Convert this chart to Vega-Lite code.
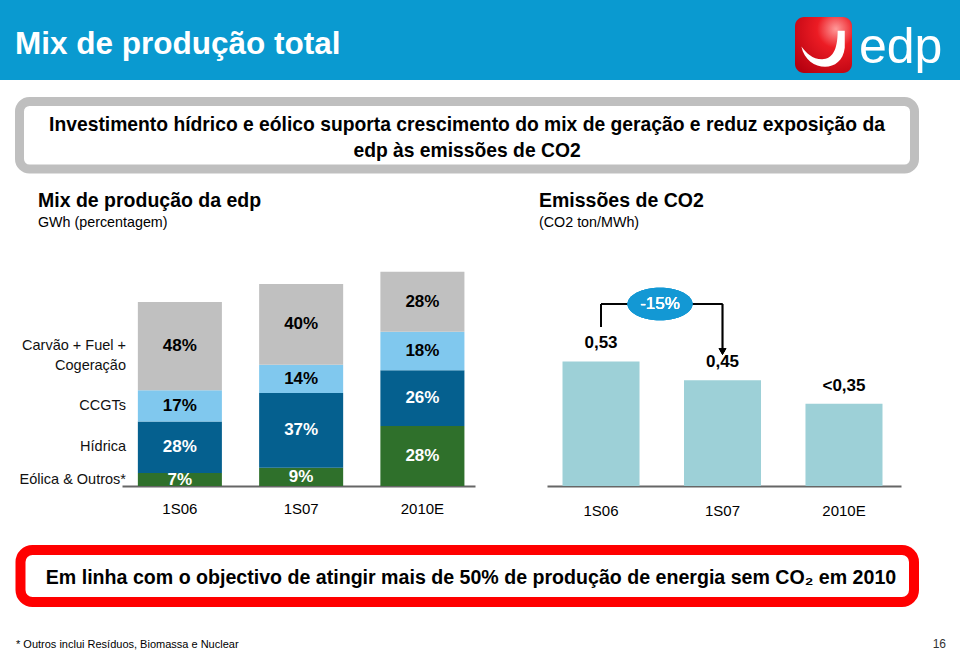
{
  "$schema": "https://vega.github.io/schema/vega-lite/v6.json",
  "width": 960,
  "height": 652,
  "padding": 0,
  "autosize": {"type": "none"},
  "background": "#ffffff",
  "config": {"view": {"stroke": null}, "text": {"font": "Liberation Sans"}, "axis": {"labelFont": "Liberation Sans"}},
  "datasets": {
    "mix": [
      {"periodo": "1S06", "fonte": "Eólica & Outros*", "ordem": 1, "valor": 1288, "pct": "7%"},
      {"periodo": "1S06", "fonte": "Hídrica", "ordem": 2, "valor": 5152, "pct": "28%"},
      {"periodo": "1S06", "fonte": "CCGTs", "ordem": 3, "valor": 3128, "pct": "17%"},
      {"periodo": "1S06", "fonte": "Carvão + Fuel +\nCogeração", "ordem": 4, "valor": 8832, "pct": "48%"},
      {"periodo": "1S07", "fonte": "Eólica & Outros*", "ordem": 1, "valor": 1818, "pct": "9%"},
      {"periodo": "1S07", "fonte": "Hídrica", "ordem": 2, "valor": 7474, "pct": "37%"},
      {"periodo": "1S07", "fonte": "CCGTs", "ordem": 3, "valor": 2828, "pct": "14%"},
      {"periodo": "1S07", "fonte": "Carvão + Fuel +\nCogeração", "ordem": 4, "valor": 8080, "pct": "40%"},
      {"periodo": "2010E", "fonte": "Eólica & Outros*", "ordem": 1, "valor": 6001, "pct": "28%"},
      {"periodo": "2010E", "fonte": "Hídrica", "ordem": 2, "valor": 5572, "pct": "26%"},
      {"periodo": "2010E", "fonte": "CCGTs", "ordem": 3, "valor": 3857, "pct": "18%"},
      {"periodo": "2010E", "fonte": "Carvão + Fuel +\nCogeração", "ordem": 4, "valor": 6000, "pct": "28%"}
    ],
    "co2": [
      {"periodo": "1S06", "valor": 0.53, "rotulo": "0,53"},
      {"periodo": "1S07", "valor": 0.45, "rotulo": "0,45"},
      {"periodo": "2010E", "valor": 0.35, "rotulo": "<0,35"}
    ]
  },
  "resolve": {"scale": {"x": "independent", "y": "independent", "color": "independent"}},
  "layer": [
    {
      "data": {"values": [{"elemento": "cabeçalho"}]},
      "mark": {"type": "rect", "color": "#0a9ad0"},
      "encoding": {"x": {"value": 0}, "x2": {"value": 960}, "y": {"value": 0}, "y2": {"value": 80}}
    },
    {
      "data": {"values": [{"t": "Mix de produção total"}]},
      "mark": {"type": "text", "align": "left", "baseline": "alphabetic", "fontSize": 31.5, "fontWeight": "bold", "color": "#ffffff"},
      "encoding": {"text": {"field": "t"}, "x": {"value": 15}, "y": {"value": 54}}
    },
    {
      "data": {"values": [{"elemento": "logo"}]},
      "mark": {"type": "rect", "cornerRadius": 9,
        "fill": {"gradient": "radial", "x1": 0.72, "y1": 0.22, "r1": 0, "x2": 0.72, "y2": 0.22, "r2": 0.95,
          "stops": [{"offset": 0, "color": "#ff9a9a"}, {"offset": 0.35, "color": "#ec1c24"}, {"offset": 1, "color": "#b5000f"}]}},
      "encoding": {"x": {"value": 795}, "x2": {"value": 852}, "y": {"value": 17}, "y2": {"value": 73}}
    },
    {
      "data": {"values": [{"elemento": "sorriso"}]},
      "mark": {"type": "point", "filled": true, "fill": "#ffffff", "opacity": 1, "strokeWidth": 0, "size": 3211,
        "shape": "M -0.78 0.05 C -0.6 0.95 0.65 1.05 0.75 0.1 L 0.75 -0.5 L 0.5 -0.5 C 0.5 0.2 0.3 0.5 -0.05 0.5 C -0.4 0.5 -0.6 0.28 -0.78 0.05 Z"},
      "encoding": {"x": {"value": 823.5}, "y": {"value": 45}}
    },
    {
      "data": {"values": [{"t": "edp"}]},
      "mark": {"type": "text", "align": "left", "baseline": "alphabetic", "fontSize": 50, "color": "#ffffff"},
      "encoding": {"text": {"field": "t"}, "x": {"value": 859}, "y": {"value": 63}}
    },
    {
      "data": {"values": [{"elemento": "caixa"}]},
      "mark": {"type": "rect", "fill": "#ffffff", "stroke": "#bfbfbf", "strokeWidth": 9, "cornerRadius": 10},
      "encoding": {"x": {"value": 19.5}, "x2": {"value": 914.5}, "y": {"value": 101.5}, "y2": {"value": 169}}
    },
    {
      "data": {"values": [{"t": "Investimento hídrico e eólico suporta crescimento do mix de geração e reduz exposição da\nedp às emissões de CO2"}]},
      "mark": {"type": "text", "align": "center", "baseline": "alphabetic", "fontSize": 19.3, "fontWeight": "bold", "color": "#000000", "lineBreak": "\n", "lineHeight": 26},
      "encoding": {"text": {"field": "t"}, "x": {"value": 467}, "y": {"value": 131}}
    },
    {
      "data": {"values": [{"t": "Mix de produção da edp"}]},
      "mark": {"type": "text", "align": "left", "baseline": "alphabetic", "fontSize": 19.5, "fontWeight": "bold", "color": "#000000"},
      "encoding": {"text": {"field": "t"}, "x": {"value": 38}, "y": {"value": 207}}
    },
    {
      "data": {"values": [{"t": "GWh (percentagem)"}]},
      "mark": {"type": "text", "align": "left", "baseline": "alphabetic", "fontSize": 14.3, "color": "#000000"},
      "encoding": {"text": {"field": "t"}, "x": {"value": 38}, "y": {"value": 227}}
    },
    {
      "data": {"values": [{"t": "Emissões de CO2"}]},
      "mark": {"type": "text", "align": "left", "baseline": "alphabetic", "fontSize": 19.5, "fontWeight": "bold", "color": "#000000"},
      "encoding": {"text": {"field": "t"}, "x": {"value": 539}, "y": {"value": 207}}
    },
    {
      "data": {"values": [{"t": "(CO2 ton/MWh)"}]},
      "mark": {"type": "text", "align": "left", "baseline": "alphabetic", "fontSize": 14.3, "color": "#000000"},
      "encoding": {"text": {"field": "t"}, "x": {"value": 539}, "y": {"value": 227}}
    },
    {
      "data": {"values": [{"elemento": "caixa vermelha"}]},
      "mark": {"type": "rect", "fill": "#ffffff", "stroke": "#ff0000", "strokeWidth": 10, "cornerRadius": 12},
      "encoding": {"x": {"value": 20.5}, "x2": {"value": 914}, "y": {"value": 550}, "y2": {"value": 602}}
    },
    {
      "data": {"values": [{"t": "Em linha com o objectivo de atingir mais de 50% de produção de energia sem CO₂ em 2010"}]},
      "mark": {"type": "text", "align": "center", "baseline": "alphabetic", "fontSize": 19.6, "fontWeight": "bold", "color": "#000000"},
      "encoding": {"text": {"field": "t"}, "x": {"value": 471}, "y": {"value": 584}}
    },
    {
      "data": {"values": [{"t": "* Outros inclui Resíduos, Biomassa e Nuclear"}]},
      "mark": {"type": "text", "align": "left", "baseline": "alphabetic", "fontSize": 11, "color": "#000000"},
      "encoding": {"text": {"field": "t"}, "x": {"value": 16}, "y": {"value": 648}}
    },
    {
      "data": {"values": [{"t": "16"}]},
      "mark": {"type": "text", "align": "right", "baseline": "alphabetic", "fontSize": 12, "color": "#333333"},
      "encoding": {"text": {"field": "t"}, "x": {"value": 946}, "y": {"value": 648}}
    },
    {
      "data": {"name": "mix"},
      "transform": [
        {"stack": "valor", "groupby": ["periodo"], "sort": [{"field": "ordem", "order": "ascending"}], "as": ["v0", "v1"]},
        {"calculate": "(datum.v0 + datum.v1) / 2", "as": "meio"}
      ],
      "encoding": {
        "x": {"field": "periodo", "type": "nominal", "sort": ["1S06", "1S07", "2010E"],
          "scale": {"range": [122, 475], "paddingInner": 0.307, "paddingOuter": 0.109, "align": 0.6, "round": false},
          "axis": {"orient": "bottom", "offset": -166, "title": null, "domainColor": "#666666", "domainWidth": 2, "ticks": false, "labelFontSize": 15, "labelColor": "#000000", "labelPadding": 15, "labelAngle": 0}}
      },
      "layer": [
        {
          "mark": {"type": "bar"},
          "encoding": {
            "y": {"field": "v1", "type": "quantitative", "scale": {"domain": [0, 25000], "range": [486, 236], "nice": false, "zero": true}, "axis": null},
            "y2": {"field": "v0"},
            "color": {"field": "fonte", "type": "nominal",
              "scale": {"domain": ["Carvão + Fuel +\nCogeração", "CCGTs", "Hídrica", "Eólica & Outros*"], "range": ["#c0c0c0", "#80c8ee", "#05608f", "#2f702b"]},
              "legend": null}
          }
        },
        {
          "mark": {"type": "text", "fontSize": 17, "fontWeight": "bold", "align": "center", "baseline": "middle"},
          "encoding": {
            "y": {"field": "meio", "type": "quantitative"},
            "text": {"field": "pct"},
            "color": {"condition": {"test": "datum.ordem <= 2", "value": "#ffffff"}, "value": "#000000"}
          }
        },
        {
          "transform": [{"filter": "datum.periodo == '1S06'"}],
          "mark": {"type": "text", "fontSize": 14.5, "align": "right", "baseline": "middle", "lineBreak": "\n", "lineHeight": 20, "color": "#111111"},
          "encoding": {
            "x": {"value": 126},
            "y": {"field": "meio", "type": "quantitative"},
            "text": {"field": "fonte"}
          }
        }
      ]
    },
    {
      "data": {"name": "co2"},
      "encoding": {
        "x": {"field": "periodo", "type": "nominal", "sort": ["1S06", "1S07", "2010E"],
          "scale": {"range": [547, 901], "paddingInner": 0.366, "paddingOuter": 0.14, "align": 0.456, "round": false},
          "axis": {"orient": "bottom", "offset": -166, "title": null, "domainColor": "#666666", "domainWidth": 2, "ticks": false, "labelFontSize": 15, "labelColor": "#000000", "labelPadding": 17, "labelAngle": 0}}
      },
      "layer": [
        {
          "mark": {"type": "bar", "color": "#9dd0d7"},
          "encoding": {
            "y": {"field": "valor", "type": "quantitative", "scale": {"domain": [0, 1], "range": [486, 251], "nice": false, "zero": true}, "axis": null}
          }
        },
        {
          "mark": {"type": "text", "fontSize": 17, "fontWeight": "bold", "align": "center", "baseline": "middle", "dy": -18, "color": "#000000"},
          "encoding": {
            "y": {"field": "valor", "type": "quantitative"},
            "text": {"field": "rotulo"}
          }
        },
        {
          "mark": {"type": "rule", "color": "#000000", "strokeWidth": 1.5},
          "encoding": {
            "x": {"datum": "1S06", "type": "nominal"},
            "y": {"datum": 0.677, "type": "quantitative"},
            "y2": {"datum": 0.7745}
          }
        },
        {
          "mark": {"type": "rule", "color": "#000000", "strokeWidth": 1.5},
          "encoding": {
            "x": {"datum": "1S06", "type": "nominal"},
            "x2": {"datum": "1S07"},
            "y": {"datum": 0.7745, "type": "quantitative"}
          }
        },
        {
          "mark": {"type": "rule", "color": "#000000", "strokeWidth": 1.5},
          "encoding": {
            "x": {"datum": "1S07", "type": "nominal"},
            "y": {"datum": 0.7745, "type": "quantitative"},
            "y2": {"datum": 0.585}
          }
        },
        {
          "mark": {"type": "point", "shape": "triangle-down", "filled": true, "color": "#000000", "opacity": 1, "size": 60},
          "encoding": {
            "x": {"datum": "1S07", "type": "nominal"},
            "y": {"datum": 0.572, "type": "quantitative"}
          }
        },
        {
          "mark": {"type": "point", "filled": true, "fill": "#1398d4", "opacity": 1, "strokeWidth": 0, "size": 4225,
            "shape": "M -1 0 C -1 -0.276 -0.552 -0.5 0 -0.5 C 0.552 -0.5 1 -0.276 1 0 C 1 0.276 0.552 0.5 0 0.5 C -0.552 0.5 -1 0.276 -1 0 Z"},
          "encoding": {
            "x": {"value": 660},
            "y": {"datum": 0.7745, "type": "quantitative"}
          }
        },
        {
          "mark": {"type": "text", "fontSize": 17, "align": "center", "baseline": "middle", "color": "#ffffff"},
          "encoding": {
            "x": {"value": 660},
            "y": {"datum": 0.7745, "type": "quantitative"},
            "text": {"value": "-15%"}
          }
        }
      ]
    }
  ]
}
